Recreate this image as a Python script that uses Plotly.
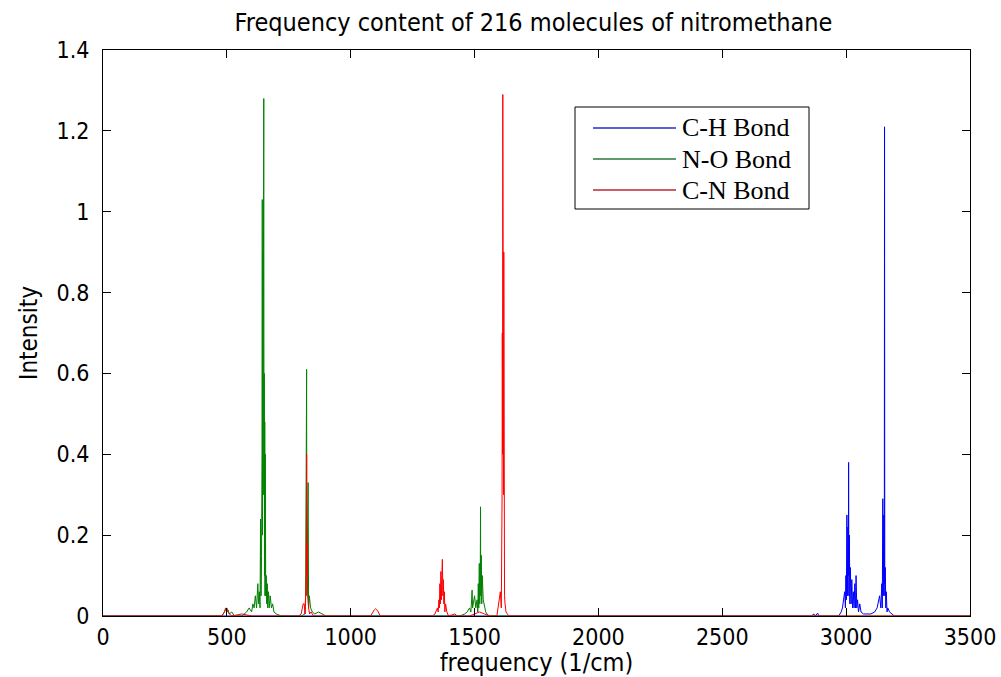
import plotly.graph_objects as go

# ---- data ----
ch_freq = [0, 2860, 2870, 2875, 2885, 2890, 2970, 2980, 2985, 2990, 2994, 2997, 2999, 3001,
           3003, 3005, 3007, 3009, 3010, 3011, 3013, 3015, 3017, 3020, 3023, 3026, 3029,
           3032, 3035, 3038, 3040, 3043, 3046, 3050, 3055, 3060, 3070, 3100,
           3115, 3125, 3135, 3140, 3144, 3146, 3148, 3150, 3152, 3154, 3155, 3156, 3158,
           3160, 3162, 3165, 3168, 3175, 3185, 3195, 3500]
ch_int = [0, 0, 0.005, 0, 0.007, 0, 0, 0.01, 0.02, 0.04, 0.06, 0.02, 0.1, 0.04,
          0.25, 0.05, 0.22, 0.1, 0.38, 0.05, 0.2, 0.03, 0.12, 0.03, 0.09, 0.02, 0.06,
          0.02, 0.08, 0.02, 0.1, 0.02, 0.04, 0.01, 0.03, 0.01, 0.005, 0.005,
          0.01, 0.02, 0.05, 0.02, 0.08, 0.02, 0.29, 0.05, 0.25, 0.08, 1.21, 0.05, 0.12,
          0.02, 0.06, 0.01, 0.02, 0.01, 0.005, 0, 0]

no_freq = [0, 480, 490, 495, 500, 505, 510, 520, 530, 560, 580, 590, 600, 605, 610, 615,
           620, 625, 628, 631, 634, 636, 638, 640, 642, 643, 644, 645, 646, 647, 648, 649,
           650, 651, 652, 653, 654, 655, 657, 659, 661, 663, 665, 668, 671, 675, 680,
           685, 690, 700, 720, 800, 815, 818, 822, 823, 825, 826, 828, 830, 833, 838, 845,
           855, 870, 900, 1440, 1460, 1470, 1480, 1485, 1488, 1490, 1492, 1495, 1500, 1505,
           1510, 1513, 1515, 1517, 1519, 1521, 1523, 1524, 1525, 1527, 1529, 1531, 1535,
           1540, 1545, 1550, 1560, 1600, 3500]
no_int = [0, 0, 0.01, 0.02, 0.01, 0.015, 0.005, 0.01, 0, 0, 0.01, 0.02, 0.01, 0.03, 0.02, 0.05,
          0.02, 0.08, 0.03, 0.06, 0.02, 0.24, 0.05, 0.15, 0.4, 1.03, 0.2, 0.9, 0.3, 0.95, 0.4, 1.28,
          0.3, 0.6, 0.1, 0.48, 0.05, 0.4, 0.05, 0.1, 0.03, 0.08, 0.02, 0.06, 0.02, 0.05, 0.02,
          0.03, 0.01, 0.005, 0, 0, 0.005, 0.05, 0.61, 0.05, 0.3, 0.05, 0.33, 0.02, 0.05, 0.02, 0.01,
          0.005, 0.01, 0, 0, 0.005, 0.01, 0.02, 0.01, 0.04, 0.064, 0.02, 0.03, 0.05, 0.02,
          0.04, 0.01, 0.08, 0.02, 0.13, 0.03, 0.1, 0.27, 0.05, 0.15, 0.03, 0.1, 0.04,
          0.02, 0.01, 0.005, 0, 0, 0]

cn_freq = [0, 480, 490, 500, 505, 510, 520, 560, 600, 790, 800, 808, 812, 816, 820, 821,
           822, 823, 824, 826, 830, 834, 840, 850, 1080, 1090, 1095, 1100, 1105, 1110,
           1115, 1120, 1330, 1340, 1350, 1353, 1356, 1358, 1360, 1362, 1364, 1366, 1368,
           1370, 1372, 1374, 1376, 1378, 1380, 1383, 1388, 1395, 1420, 1430, 1480, 1500,
           1520, 1540, 1560, 1590, 1598, 1604, 1608, 1611, 1612, 1613, 1614, 1615, 1616,
           1617, 1618, 1619, 1621, 1623, 1627, 1632, 1640, 3500]
cn_int = [0, 0, 0.01, 0.02, 0.01, 0.005, 0, 0.005, 0, 0, 0.005, 0.03, 0.03, 0.005, 0.1, 0.3,
          0.4, 0.1, 0.18, 0.05, 0.02, 0.005, 0.01, 0, 0, 0.012, 0.015, 0.018, 0.015, 0.012,
          0.005, 0, 0, 0.005, 0.02, 0.01, 0.04, 0.02, 0.08, 0.03, 0.11, 0.04, 0.1,
          0.14, 0.05, 0.09, 0.03, 0.06, 0.01, 0.03, 0.01, 0, 0.005, 0, 0, 0.005,
          0.01, 0.005, 0, 0, 0.03, 0.06, 0.02, 0.3, 0.7, 0.4, 1.29, 0.5, 0.85,
          0.3, 0.9, 0.2, 0.05, 0.03, 0.01, 0.005, 0, 0]

series_names = ["C-H Bond", "N-O Bond", "C-N Bond"]
series_colors = ["rgb(0,0,255)", "rgb(0,128,0)", "rgb(255,0,0)"]
legend_line_colors = ["rgb(40,40,200)", "rgb(40,120,60)", "rgb(190,40,50)"]
x_ticks = [0, 500, 1000, 1500, 2000, 2500, 3000, 3500]
y_ticks = [0, 0.2, 0.4, 0.6, 0.8, 1, 1.2, 1.4]

# plot area in pixels (layout only)
W, H = 1001, 677
L, R, T, B = 103, 31, 50, 61
PW, PH = W - L - R, H - T - B


def px_x(px):
    return (px - L) / PW


def px_y(py):
    return (H - B - py) / PH


fig = go.Figure()
for name, xs, ys, col in zip(series_names, [ch_freq, no_freq, cn_freq],
                             [ch_int, no_int, cn_int], series_colors):
    fig.add_trace(go.Scatter(x=xs, y=ys, mode="lines", name=name, showlegend=False,
                             line=dict(color=col, width=1)))

sans = "DejaVu Sans Condensed, Liberation Sans Narrow, Arial, sans-serif"
serif = "Liberation Serif, Times New Roman, serif"
axis_common = dict(showline=True, linecolor="black", linewidth=1, mirror="ticks",
                   ticks="inside", ticklen=8, tickcolor="black", showgrid=False,
                   zeroline=False, automargin=False,
                   tickfont=dict(family=sans, size=23, color="black"))

# manual legend box (MATLAB style)
shapes = [dict(type="rect", xref="paper", yref="paper",
               x0=px_x(575), x1=px_x(809), y0=px_y(209), y1=px_y(107),
               line=dict(color="black", width=1), fillcolor="white", layer="above")]
annotations = []
for i, (name, col) in enumerate(zip(series_names, legend_line_colors)):
    yy = px_y(128 + i * 31)
    shapes.append(dict(type="line", xref="paper", yref="paper",
                       x0=px_x(593), x1=px_x(676), y0=yy, y1=yy,
                       line=dict(color=col, width=1.5), layer="above"))
    annotations.append(dict(text=name, xref="paper", yref="paper", x=px_x(680), y=yy,
                            xanchor="left", yanchor="middle", showarrow=False,
                            font=dict(family=serif, size=26, color="black")))

fig.update_layout(
    width=W, height=H,
    margin=dict(l=L, r=R, t=T, b=B),
    paper_bgcolor="white", plot_bgcolor="white",
    showlegend=False,
    shapes=shapes, annotations=annotations,
    title=dict(text="Frequency content of 216 molecules of nitromethane",
               x=0.533, xanchor="center", y=0.967, yanchor="middle",
               font=dict(family=sans, size=25, color="black")),
    xaxis=dict(range=[0, 3500], tickvals=x_ticks, ticklabelstandoff=0,
               title=dict(text="frequency (1/cm)", standoff=2,
                          font=dict(family=sans, size=25, color="black")),
               **axis_common),
    yaxis=dict(range=[0, 1.4], tickvals=y_ticks, ticklabelstandoff=8,
               title=dict(text="Intensity", standoff=12,
                          font=dict(family=sans, size=24, color="black")),
               **axis_common),
)

fig.write_html("out.html")
